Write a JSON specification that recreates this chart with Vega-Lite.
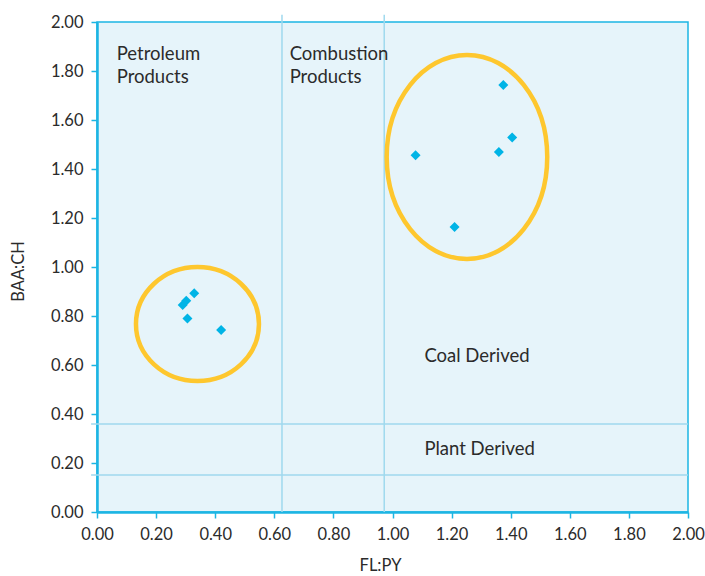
{
  "$schema": "https://vega.github.io/schema/vega-lite/v6.json",
  "width": 591,
  "height": 490,
  "autosize": {"type": "none"},
  "padding": {"left": 97, "top": 22, "right": 17, "bottom": 64},
  "background": "white",
  "config": {
    "view": {"fill": "#e6f4fa", "stroke": "#1cb5e3", "strokeWidth": 1.5},
    "axis": {
      "domainColor": "#1cb5e3", "domainWidth": 2.5,
      "tickColor": "#1cb5e3", "tickWidth": 1.5, "tickSize": 6,
      "labelFont": "Lato", "labelFontSize": 16.5, "labelColor": "#2b2b2b", "labelPadding": 8,
      "titleFont": "Lato", "titleFontSize": 16.5, "titleFontWeight": "normal", "titleColor": "#2b2b2b",
      "grid": false, "format": ".2f", "tickCount": 10, "labelFlush": false
    },
    "axisX": {"titleX": 283, "titleY": 53, "titleBaseline": "middle"},
    "axisY": {"titleX": -79, "titleY": 249, "titleBaseline": "middle", "titleAngle": -90, "titleAlign": "center"}
  },
  "layer": [
    {
      "data": {"values": [{"x": 0.626}, {"x": 0.972}]},
      "mark": {"type": "rule", "color": "#9fd9ee", "strokeWidth": 1.5, "clip": false},
      "encoding": {
        "x": {"field": "x", "type": "quantitative", "scale": {"domain": [0, 2], "nice": false, "zero": false}, "title": "FL:PY"},
        "y": {"datum": 0, "type": "quantitative"},
        "y2": {"datum": 2.03}
      }
    },
    {
      "data": {"values": [{"y": 0.359}, {"y": 0.151}]},
      "mark": {"type": "rule", "color": "#9fd9ee", "strokeWidth": 1.5, "clip": false},
      "encoding": {
        "y": {"field": "y", "type": "quantitative", "scale": {"domain": [0, 2], "nice": false, "zero": false}, "title": "BAA:CH"},
        "x": {"datum": -0.02, "type": "quantitative"},
        "x2": {"datum": 2}
      }
    },
    {
      "data": {"values": [{"x": 0.34, "y": 0.767, "cluster": "Petroleum Products"}]},
      "mark": {"type": "point", "filled": false, "shape": "M -1,0 A 1,0.927 0 1,1 1,0 A 1,0.927 0 1,1 -1,0 Z", "size": 15129, "stroke": "#fec72e", "strokeWidth": 4.5, "opacity": 1},
      "encoding": {
        "x": {"field": "x", "type": "quantitative", "title": "FL:PY"},
        "y": {"field": "y", "type": "quantitative", "title": "BAA:CH"}
      }
    },
    {
      "data": {"values": [{"x": 1.252, "y": 1.449, "cluster": "Combustion Products"}]},
      "mark": {"type": "point", "filled": false, "shape": "M -0.787,0 A 0.787,1 0 1,1 0.787,0 A 0.787,1 0 1,1 -0.787,0 Z", "size": 41616, "stroke": "#fec72e", "strokeWidth": 4.5, "opacity": 1},
      "encoding": {
        "x": {"field": "x", "type": "quantitative", "title": "FL:PY"},
        "y": {"field": "y", "type": "quantitative", "title": "BAA:CH"}
      }
    },
    {
      "data": {"values": [
        {"x": 0.329, "y": 0.893},
        {"x": 0.290, "y": 0.845},
        {"x": 0.302, "y": 0.862},
        {"x": 0.306, "y": 0.790},
        {"x": 0.420, "y": 0.743},
        {"x": 1.375, "y": 1.743},
        {"x": 1.405, "y": 1.529},
        {"x": 1.360, "y": 1.469},
        {"x": 1.078, "y": 1.456},
        {"x": 1.210, "y": 1.163}
      ]},
      "mark": {"type": "point", "shape": "diamond", "filled": true, "size": 100, "color": "#00b4e6", "opacity": 1},
      "encoding": {
        "x": {"field": "x", "type": "quantitative", "title": "FL:PY"},
        "y": {"field": "y", "type": "quantitative", "title": "BAA:CH"}
      }
    },
    {
      "data": {"values": [
        {"x": 0.0667, "y": 1.845, "label": "Petroleum\nProducts"},
        {"x": 0.652, "y": 1.845, "label": "Combustion\nProducts"},
        {"x": 1.108, "y": 0.611, "label": "Coal Derived"},
        {"x": 1.108, "y": 0.233, "label": "Plant Derived"}
      ]},
      "mark": {"type": "text", "align": "left", "baseline": "alphabetic", "font": "Lato", "fontSize": 18.5, "lineHeight": 23.5, "lineBreak": "\n", "color": "#2b2b2b"},
      "encoding": {
        "x": {"field": "x", "type": "quantitative", "title": "FL:PY"},
        "y": {"field": "y", "type": "quantitative", "title": "BAA:CH"},
        "text": {"field": "label", "type": "nominal"}
      }
    }
  ]
}
